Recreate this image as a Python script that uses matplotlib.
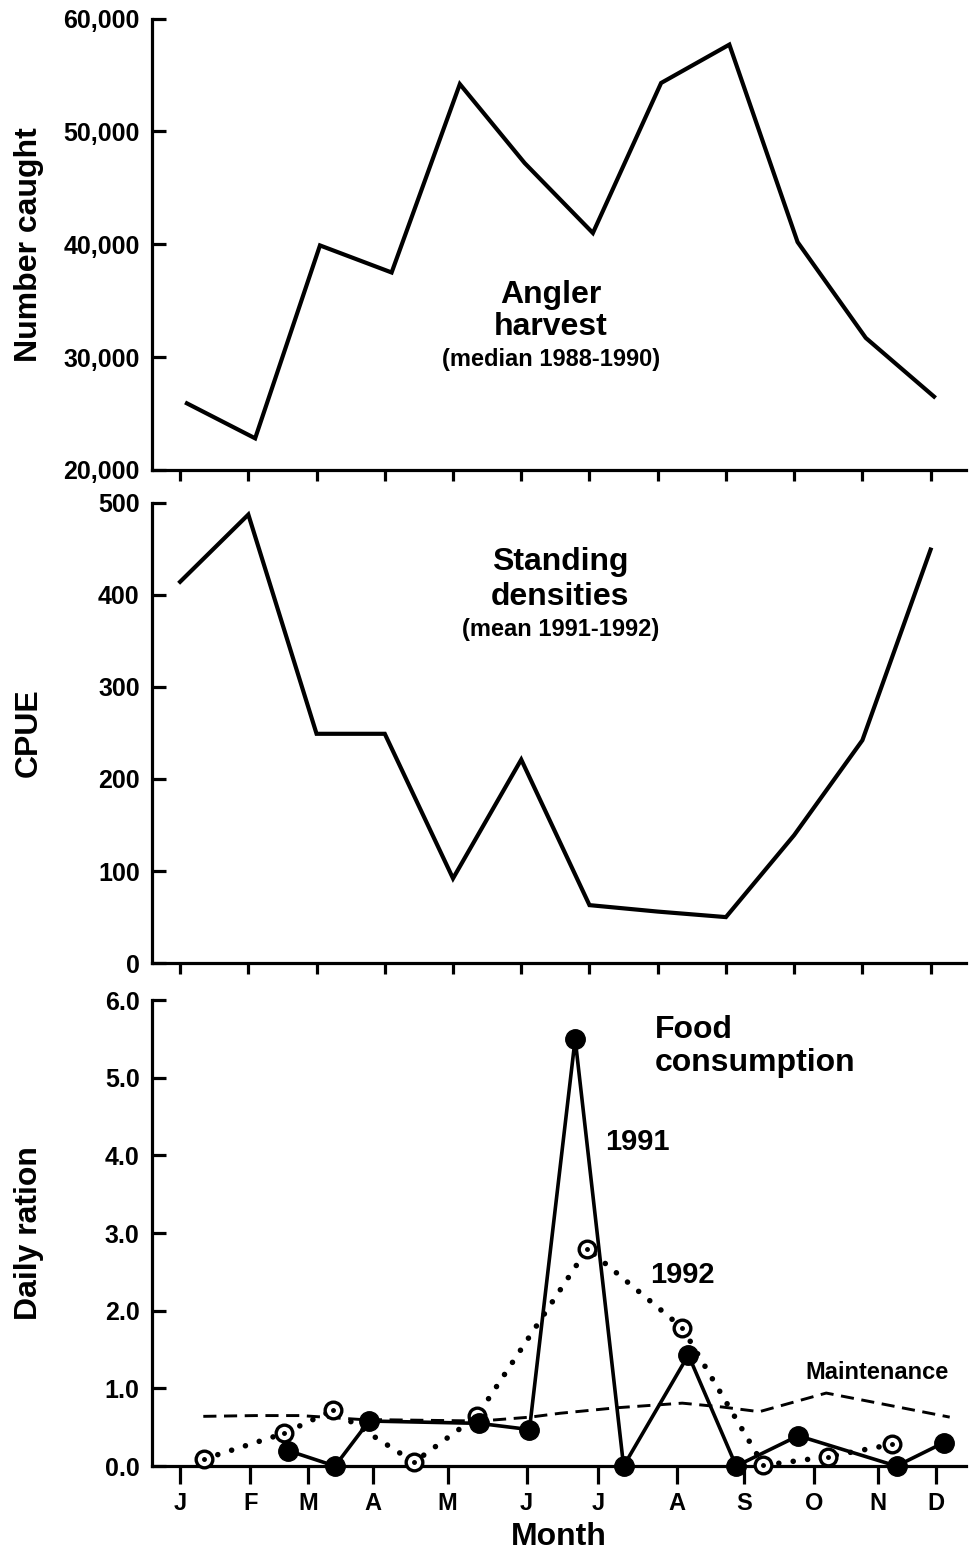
import numpy as np
import matplotlib
matplotlib.use("Agg")
import matplotlib.pyplot as plt
from matplotlib.ticker import FuncFormatter

plt.rcParams['font.family'] = ['Liberation Sans', 'DejaVu Sans']
plt.rcParams['font.weight'] = 'bold'

months = ['J', 'F', 'M', 'A', 'M', 'J', 'J', 'A', 'S', 'O', 'N', 'D']
month_pos = list(range(12))

# angler harvest (median 1988-1990)
harvest_x = [0.1, 1.1, 2.05, 3.1, 4.1, 5.05, 6.05, 7.05, 8.05, 9.05, 10.05, 11.05]
harvest = [25900, 22800, 39900, 37500, 54200, 47200, 41000, 54300, 57700, 40200, 31700, 26500]

# standing densities, CPUE (mean 1991-1992)
cpue_x = [0, 1, 2, 3, 4, 5, 6, 7, 8, 9, 10, 11]
cpue = [414, 487, 249, 249, 92, 221, 63, 56, 50, 139, 242, 449]

# food consumption, daily ration
ration_ticks = [0.0, 1.03, 1.88, 2.82, 3.92, 5.08, 6.13, 7.28, 8.26, 9.29, 10.23, 11.08]
r1991_x = [1.58, 2.27, 2.77, 4.38, 5.12, 5.79, 6.50, 7.45, 8.15, 9.06, 10.50, 11.19]
r1991 = [0.20, 0.0, 0.58, 0.55, 0.47, 5.50, 0.0, 1.43, 0.0, 0.39, 0.0, 0.30]
r1992_x = [0.35, 1.52, 2.24, 3.43, 4.35, 5.97, 7.36, 8.55, 9.49, 10.44]
r1992 = [0.09, 0.42, 0.72, 0.05, 0.64, 2.80, 1.78, 0.01, 0.12, 0.28]
maint_x = [0.34, 1.10, 1.76, 2.64, 3.52, 4.40, 5.13, 5.57, 6.39, 7.36, 7.95, 8.49, 9.47, 10.29, 11.28]
maint = [0.64, 0.65, 0.65, 0.60, 0.59, 0.58, 0.63, 0.68, 0.75, 0.81, 0.76, 0.70, 0.94, 0.80, 0.63]

fig = plt.figure(figsize=(9.69, 15.56), dpi=100)
ax1 = fig.add_axes([0.157, 0.698, 0.840, 0.290])
ax2 = fig.add_axes([0.157, 0.381, 0.840, 0.296])
ax3 = fig.add_axes([0.157, 0.0578, 0.840, 0.2995])


def style(ax):
    for s in ['top', 'right']:
        ax.spines[s].set_visible(False)
    for s in ['left', 'bottom']:
        ax.spines[s].set_linewidth(2.3)
    ax.tick_params(axis='y', direction='in', length=10, width=2.3, pad=9, labelsize=18)
    ax.tick_params(axis='x', direction='out', length=8, width=2.3, labelsize=17, pad=6)
    ax.set_xlim(-0.41, 11.52)


# top: angler harvest
style(ax1)
ax1.plot(harvest_x, harvest, color='black', lw=3.0, solid_joinstyle='miter')
ax1.set_ylim(20000, 60000)
ax1.set_yticks([20000, 30000, 40000, 50000, 60000])
ax1.yaxis.set_major_formatter(FuncFormatter(lambda v, p: '{:,.0f}'.format(v)))
ax1.set_xticks(month_pos)
ax1.set_xticklabels([])
ax1.set_ylabel('Number caught', fontsize=23, fontweight='bold')
ax1.yaxis.set_label_coords(-0.133, 0.5)
ax1.text(5.43, 35500, 'Angler', ha='center', va='center', fontsize=23)
ax1.text(5.43, 32700, 'harvest', ha='center', va='center', fontsize=23)
ax1.text(5.43, 29750, '(median 1988-1990)', ha='center', va='center', fontsize=17)

# middle: standing densities
style(ax2)
ax2.plot(cpue_x, cpue, color='black', lw=3.0, solid_joinstyle='miter')
ax2.set_ylim(0, 500)
ax2.set_yticks([0, 100, 200, 300, 400, 500])
ax2.set_xticks(month_pos)
ax2.set_xticklabels([])
ax2.set_ylabel('CPUE', fontsize=23, fontweight='bold')
ax2.yaxis.set_label_coords(-0.133, 0.5)
ax2.text(5.57, 435, 'Standing', ha='center', va='center', fontsize=23)
ax2.text(5.57, 398, 'densities', ha='center', va='center', fontsize=23)
ax2.text(5.57, 362, '(mean 1991-1992)', ha='center', va='center', fontsize=17)

# bottom: food consumption
style(ax3)
ax3.plot(maint_x, maint, color='black', lw=2.1, linestyle=(0, (4.5, 2.6)))
ax3.plot(r1992_x, r1992, color='black', lw=4.0, linestyle=(0, (0.01, 2.6)),
         dash_capstyle='round', clip_on=False)
ax3.plot(r1992_x, r1992, linestyle='none', marker='o', ms=12, mfc='white',
         mec='black', mew=2.4, clip_on=False, zorder=4)
ax3.plot(r1992_x, r1992, linestyle='none', marker='.', ms=5, color='black',
         clip_on=False, zorder=5)
ax3.plot(r1991_x, r1991, color='black', lw=2.6, marker='o', ms=14,
         clip_on=False, zorder=6)
ax3.set_ylim(0, 6.0)
ax3.set_yticks([0, 1, 2, 3, 4, 5, 6])
ax3.yaxis.set_major_formatter(FuncFormatter(lambda v, p: '{:.1f}'.format(v)))
ax3.set_xticks(ration_ticks)
ax3.set_xticklabels(months)
ax3.tick_params(axis='x', length=13)
ax3.set_ylabel('Daily ration', fontsize=23, fontweight='bold')
ax3.yaxis.set_label_coords(-0.133, 0.5)
ax3.set_xlabel('Month', fontsize=23, fontweight='bold', labelpad=5)
ax3.text(6.96, 5.61, 'Food', ha='left', va='center', fontsize=23)
ax3.text(6.96, 5.19, 'consumption', ha='left', va='center', fontsize=23)
ax3.text(6.70, 4.17, '1991', ha='center', va='center', fontsize=21)
ax3.text(7.36, 2.46, '1992', ha='center', va='center', fontsize=21)
ax3.text(10.22, 1.20, 'Maintenance', ha='center', va='center', fontsize=17)

fig.savefig('out.png', dpi=100)
